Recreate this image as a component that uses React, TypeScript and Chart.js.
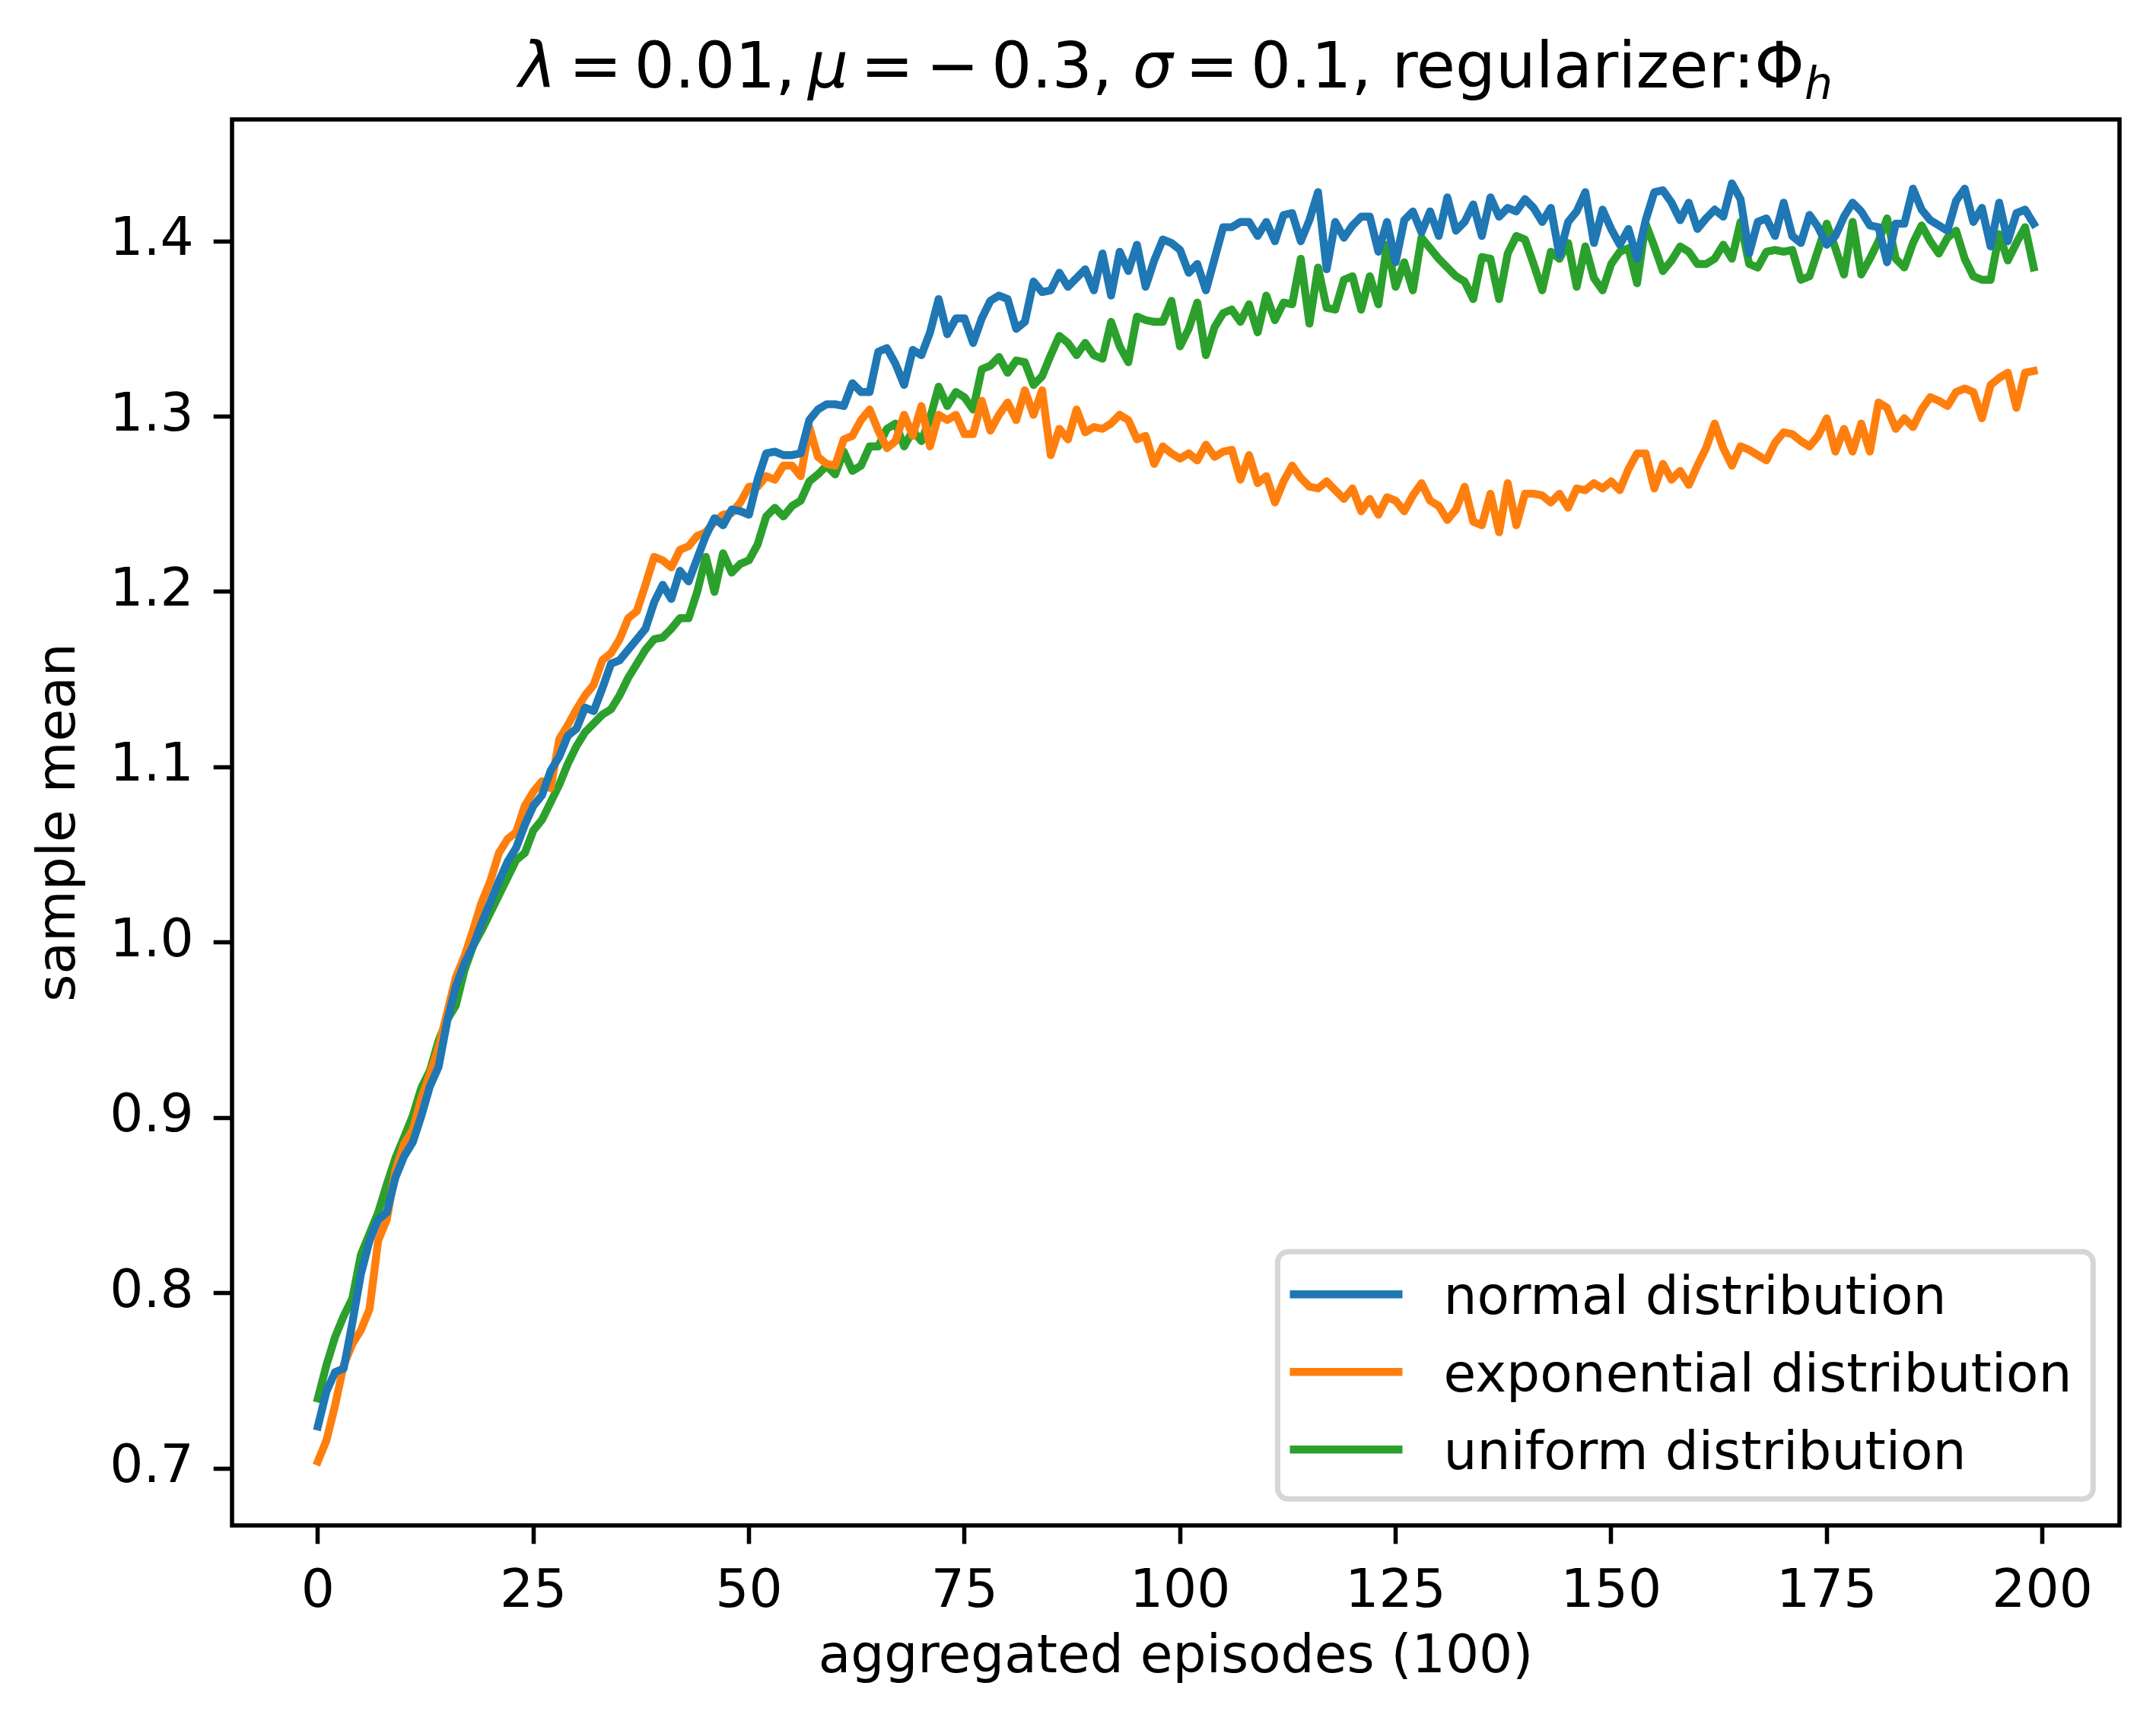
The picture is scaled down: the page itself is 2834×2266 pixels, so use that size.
import { useEffect, useRef } from "react";
import { Chart, registerables } from "chart.js";

Chart.register(...registerables);

// sample mean per aggregated episode (index 0..199)
const normalMean = [
  0.724, 0.744, 0.755, 0.757, 0.783, 0.811, 0.83, 0.842, 0.846, 0.866,
  0.878, 0.886, 0.901, 0.918, 0.929, 0.955, 0.975, 0.988, 0.998, 1.011,
  1.023, 1.035, 1.046, 1.054, 1.067, 1.078, 1.084, 1.098, 1.106, 1.118,
  1.122, 1.134, 1.132, 1.145, 1.159, 1.161, 1.167, 1.173, 1.179, 1.194,
  1.204, 1.196, 1.212, 1.206, 1.219, 1.232, 1.242, 1.238, 1.247, 1.246,
  1.244, 1.264, 1.279, 1.28, 1.278, 1.278, 1.279, 1.298, 1.304, 1.307,
  1.307, 1.306, 1.319, 1.314, 1.314, 1.337, 1.339, 1.33, 1.318, 1.338,
  1.335, 1.348, 1.367, 1.347, 1.356, 1.356, 1.342, 1.356, 1.366, 1.369,
  1.367, 1.35, 1.354, 1.377, 1.371, 1.372, 1.382, 1.374, 1.379, 1.384,
  1.372, 1.393, 1.369, 1.394, 1.383, 1.398, 1.374, 1.389, 1.401, 1.399,
  1.395, 1.382, 1.387, 1.372, 1.39, 1.408, 1.408, 1.411, 1.411, 1.403,
  1.411, 1.4, 1.415, 1.416, 1.4, 1.412, 1.428, 1.384, 1.411, 1.402,
  1.409, 1.414, 1.414, 1.394, 1.411, 1.388, 1.412, 1.417, 1.405, 1.417,
  1.403, 1.425, 1.406, 1.411, 1.421, 1.403, 1.425, 1.414, 1.419, 1.417,
  1.424, 1.419, 1.411, 1.419, 1.392, 1.411, 1.417, 1.428, 1.399, 1.418,
  1.407, 1.398, 1.407, 1.39, 1.412, 1.428, 1.429, 1.422, 1.412, 1.422,
  1.407, 1.413, 1.418, 1.414, 1.433, 1.424, 1.393, 1.411, 1.413, 1.403,
  1.422, 1.403, 1.399, 1.415, 1.408, 1.398, 1.403, 1.414, 1.422, 1.417,
  1.409, 1.408, 1.388, 1.41, 1.41, 1.43, 1.418, 1.412, 1.409, 1.406,
  1.423, 1.43, 1.411, 1.419, 1.397, 1.422, 1.4, 1.416, 1.418, 1.41,
];

const exponentialMean = [
  0.704, 0.716, 0.736, 0.759, 0.771, 0.779, 0.791, 0.83, 0.842, 0.87,
  0.885, 0.893, 0.911, 0.925, 0.94, 0.96, 0.98, 0.992, 1.007, 1.023,
  1.035, 1.051, 1.059, 1.063, 1.078, 1.086, 1.092, 1.088, 1.116, 1.124,
  1.133, 1.141, 1.147, 1.161, 1.165, 1.173, 1.185, 1.189, 1.204, 1.22,
  1.218, 1.214, 1.224, 1.226, 1.232, 1.234, 1.24, 1.244, 1.245, 1.251,
  1.26, 1.26, 1.266, 1.264, 1.272, 1.272, 1.266, 1.294, 1.277, 1.273,
  1.272, 1.287, 1.289, 1.298, 1.304, 1.292, 1.282, 1.286, 1.301, 1.289,
  1.306, 1.283, 1.301, 1.298, 1.301, 1.29, 1.29, 1.309, 1.292, 1.301,
  1.308, 1.298, 1.315, 1.301, 1.315, 1.278, 1.293, 1.287, 1.304, 1.291,
  1.294, 1.293, 1.296, 1.301, 1.298, 1.287, 1.289, 1.273, 1.283, 1.279,
  1.276, 1.279, 1.275, 1.284, 1.277, 1.28, 1.281, 1.264, 1.278, 1.262,
  1.266, 1.251, 1.263, 1.272, 1.265, 1.26, 1.259, 1.263, 1.258, 1.253,
  1.259, 1.246, 1.253, 1.244, 1.254, 1.252, 1.246, 1.255, 1.262, 1.252,
  1.249, 1.241, 1.247, 1.26, 1.24, 1.238, 1.256, 1.234, 1.262, 1.238,
  1.256, 1.256, 1.255, 1.251, 1.256, 1.248, 1.259, 1.258, 1.262, 1.259,
  1.263, 1.258, 1.27, 1.279, 1.279, 1.259, 1.273, 1.264, 1.269, 1.261,
  1.272, 1.282, 1.296, 1.282, 1.272, 1.283, 1.281, 1.278, 1.275, 1.285,
  1.291, 1.29, 1.286, 1.283, 1.289, 1.299, 1.28, 1.293, 1.28, 1.296,
  1.28, 1.308, 1.305, 1.293, 1.299, 1.294, 1.304, 1.311, 1.309, 1.306,
  1.314, 1.316, 1.314, 1.299, 1.318, 1.322, 1.325, 1.305, 1.325, 1.326,
];

const uniformMean = [
  0.74, 0.759, 0.775, 0.787, 0.797, 0.822, 0.834, 0.846, 0.862, 0.877,
  0.889, 0.901, 0.917, 0.927, 0.944, 0.956, 0.964, 0.984, 0.998, 1.007,
  1.017, 1.027, 1.037, 1.047, 1.051, 1.064, 1.07, 1.08, 1.09, 1.102,
  1.112, 1.12, 1.125, 1.13, 1.133, 1.141, 1.151, 1.159, 1.167, 1.173,
  1.174, 1.179, 1.185, 1.185, 1.2, 1.22, 1.2, 1.222, 1.211, 1.216,
  1.218, 1.227, 1.243, 1.248, 1.243, 1.249, 1.252, 1.263, 1.267, 1.272,
  1.267, 1.28, 1.269, 1.272, 1.283, 1.283, 1.293, 1.296, 1.283, 1.292,
  1.286, 1.299, 1.317, 1.306, 1.314, 1.311, 1.304, 1.327, 1.329, 1.334,
  1.325, 1.332, 1.331, 1.318, 1.323, 1.335, 1.346, 1.342, 1.335, 1.342,
  1.335, 1.333, 1.354, 1.34, 1.331, 1.357, 1.355, 1.354, 1.354, 1.366,
  1.34, 1.35, 1.365, 1.335, 1.351, 1.359, 1.361, 1.354, 1.364, 1.348,
  1.369, 1.355, 1.365, 1.364, 1.39, 1.353, 1.385, 1.362, 1.361, 1.378,
  1.38, 1.361, 1.38, 1.364, 1.398, 1.374, 1.388, 1.372, 1.402, 1.396,
  1.39, 1.385, 1.38, 1.377, 1.367, 1.391, 1.39, 1.367, 1.393, 1.403,
  1.401, 1.387, 1.372, 1.394, 1.39, 1.399, 1.374, 1.397, 1.379, 1.372,
  1.387, 1.394, 1.396, 1.376, 1.41, 1.397, 1.383, 1.389, 1.397, 1.394,
  1.387, 1.387, 1.39, 1.398, 1.39, 1.411, 1.387, 1.385, 1.394, 1.395,
  1.394, 1.395, 1.378, 1.38, 1.395, 1.41, 1.396, 1.381, 1.411, 1.381,
  1.39, 1.4, 1.413, 1.39, 1.385, 1.399, 1.409, 1.4, 1.393, 1.402,
  1.406, 1.39, 1.38, 1.378, 1.378, 1.404, 1.389, 1.399, 1.408, 1.385,
];

const seriesLabels = ["normal distribution", "exponential distribution", "uniform distribution"];
const seriesColors = ["#1f77b4", "#ff7f0e", "#2ca02c"];
const xTicks = [0, 25, 50, 75, 100, 125, 150, 175, 200];
const yTicks = [0.7, 0.8, 0.9, 1.0, 1.1, 1.2, 1.3, 1.4];

// title pieces, mathtext style: italic symbols, a small kern around = and −
const titleParts = [
  { text: "λ", italic: true },
  { kern: true },
  { text: "=" },
  { kern: true },
  { text: "0.01," },
  { kern: true },
  { text: "μ", italic: true },
  { kern: true },
  { text: "=" },
  { kern: true },
  { text: "−" },
  { kern: true },
  { text: "0.3, " },
  { text: "σ", italic: true },
  { kern: true },
  { text: "=" },
  { kern: true },
  { text: "0.1, regularizer:Φ" },
  { text: "h", italic: true, sub: true },
];

const W = 2834;
const H = 2266;
const PT = 500 / 72; // figure was saved at 500 dpi
const FONT = 10 * PT;
const TITLE_FONT = 12 * PT;
const FAMILY = '"DejaVu Sans", sans-serif';

const episodes = normalMean.map((_, i) => i);
const allSeries = [normalMean, exponentialMean, uniformMean];

// matplotlib-like 5% margins
const xMin = episodes[0] - 0.05 * (episodes[episodes.length - 1] - episodes[0]);
const xMax = episodes[episodes.length - 1] + 0.05 * (episodes[episodes.length - 1] - episodes[0]);
const lo = Math.min(...allSeries.flat());
const hi = Math.max(...allSeries.flat());
const yMin = lo - 0.05 * (hi - lo);
const yMax = hi + 0.05 * (hi - lo);

const mplDecor = {
  id: "mplDecor",
  afterDatasetsDraw(chart: any) {
    const { ctx, chartArea: a } = chart;
    ctx.save();
    // axes frame
    ctx.strokeStyle = "#000";
    ctx.lineWidth = 0.8 * PT;
    ctx.strokeRect(a.left, a.top, a.right - a.left, a.bottom - a.top);

    // legend, lower right
    ctx.font = `${FONT}px ${FAMILY}`;
    const sets = chart.data.datasets;
    const widths = sets.map((d: any) => ctx.measureText(d.label).width);
    const boxRight = a.right - 0.5 * FONT;
    const boxBottom = a.bottom - 0.5 * FONT;
    const boxW = 218 + Math.max(...widths) + 0.4 * FONT;
    const boxH = 325;
    const left = boxRight - boxW;
    const top = boxBottom - boxH;
    ctx.beginPath();
    ctx.roundRect(left, top, boxW, boxH, 0.2 * FONT);
    ctx.fillStyle = "rgba(255,255,255,0.8)";
    ctx.fill();
    ctx.strokeStyle = "rgba(204,204,204,0.8)";
    ctx.lineWidth = 1 * PT;
    ctx.stroke();
    sets.forEach((d: any, k: number) => {
      const cy = top + 56 + k * 102;
      ctx.beginPath();
      ctx.moveTo(left + 16, cy);
      ctx.lineTo(left + 164, cy);
      ctx.strokeStyle = d.borderColor;
      ctx.lineWidth = 1.5 * PT;
      ctx.lineCap = "butt";
      ctx.stroke();
      ctx.fillStyle = "#000";
      ctx.textBaseline = "alphabetic";
      ctx.textAlign = "left";
      ctx.fillText(d.label, left + 218, cy + 25.5);
    });
    ctx.restore();
  },
  afterDraw(chart: any) {
    const { ctx, chartArea: a } = chart;
    ctx.save();
    ctx.fillStyle = "#000";
    ctx.textBaseline = "alphabetic";
    ctx.textAlign = "left";
    const fontFor = (p: any) =>
      `${p.italic ? "italic " : ""}${p.sub ? TITLE_FONT * 0.7 : TITLE_FONT}px ${FAMILY}`;
    ctx.font = `italic ${TITLE_FONT}px ${FAMILY}`;
    const kern = 0.2 * ctx.measureText("m").width;
    const widths = titleParts.map((p: any) => {
      if (p.kern) return kern;
      ctx.font = fontFor(p);
      return ctx.measureText(p.text).width;
    });
    const total = widths.reduce((s, w) => s + w, 0);
    let x = (a.left + a.right) / 2 - total / 2;
    const baseline = a.top - 6 * PT;
    titleParts.forEach((p: any, i) => {
      if (!p.kern) {
        ctx.font = fontFor(p);
        ctx.fillText(p.text, x, baseline + (p.sub ? 0.18 * TITLE_FONT : 0));
      }
      x += widths[i];
    });
    ctx.restore();
  },
};

export default function App() {
  const canvasRef = useRef<HTMLCanvasElement>(null);
  const chartRef = useRef<Chart | null>(null);

  useEffect(() => {
    document.body.style.margin = "0";
    if (!canvasRef.current) return;
    chartRef.current?.destroy();

    const tickFont = { family: FAMILY, size: FONT };
    const grid = {
      display: true,
      drawOnChartArea: false,
      drawTicks: true,
      tickLength: 3.5 * PT,
      tickWidth: 0.8 * PT,
      tickColor: "#000",
    };

    chartRef.current = new Chart(canvasRef.current, {
      type: "line",
      data: {
        datasets: allSeries.map((vals, k) => ({
          label: seriesLabels[k],
          data: vals.map((y, i) => ({ x: episodes[i], y })),
          borderColor: seriesColors[k],
          backgroundColor: seriesColors[k],
          borderWidth: 1.5 * PT,
          borderJoinStyle: "round" as const,
          borderCapStyle: "square" as const,
          pointRadius: 0,
          tension: 0,
          fill: false,
        })),
      },
      options: {
        animation: false,
        responsive: false,
        devicePixelRatio: 1,
        events: [],
        layout: { padding: { top: 157, right: W - 2786, left: 0, bottom: 0 } },
        plugins: {
          legend: { display: false },
          title: { display: false },
          tooltip: { enabled: false },
        },
        scales: {
          x: {
            type: "linear",
            min: xMin,
            max: xMax,
            afterBuildTicks: (axis: any) => {
              axis.ticks = xTicks.map((v) => ({ value: v }));
            },
            afterFit: (s: any) => {
              s.height = H - 2005;
            },
            ticks: {
              font: tickFont,
              color: "#000",
              padding: 23,
              autoSkip: false,
              maxRotation: 0,
              callback: (v: any) => String(v),
            },
            grid,
            border: { display: false },
            title: {
              display: true,
              text: "aggregated episodes (100)",
              color: "#000",
              font: { family: FAMILY, size: FONT, lineHeight: 1 },
              padding: { top: 0, bottom: 51 },
            },
          },
          y: {
            type: "linear",
            min: yMin,
            max: yMax,
            afterBuildTicks: (axis: any) => {
              axis.ticks = yTicks.map((v) => ({ value: v }));
            },
            afterFit: (s: any) => {
              s.width = 305;
            },
            ticks: {
              font: tickFont,
              color: "#000",
              padding: 26,
              autoSkip: false,
              callback: (v: any) => Number(v).toFixed(1),
            },
            grid,
            border: { display: false },
            title: {
              display: true,
              text: "sample mean",
              color: "#000",
              font: { family: FAMILY, size: FONT, lineHeight: 1 },
              padding: { top: 45, bottom: 0 },
            },
          },
        },
      },
      plugins: [mplDecor],
    });

    return () => {
      chartRef.current?.destroy();
      chartRef.current = null;
    };
  }, []);

  return (
    <div style={{ position: "absolute", left: 0, top: 0, width: W, height: H, background: "#fff" }}>
      <canvas ref={canvasRef} width={W} height={H} style={{ display: "block" }} />
    </div>
  );
}
